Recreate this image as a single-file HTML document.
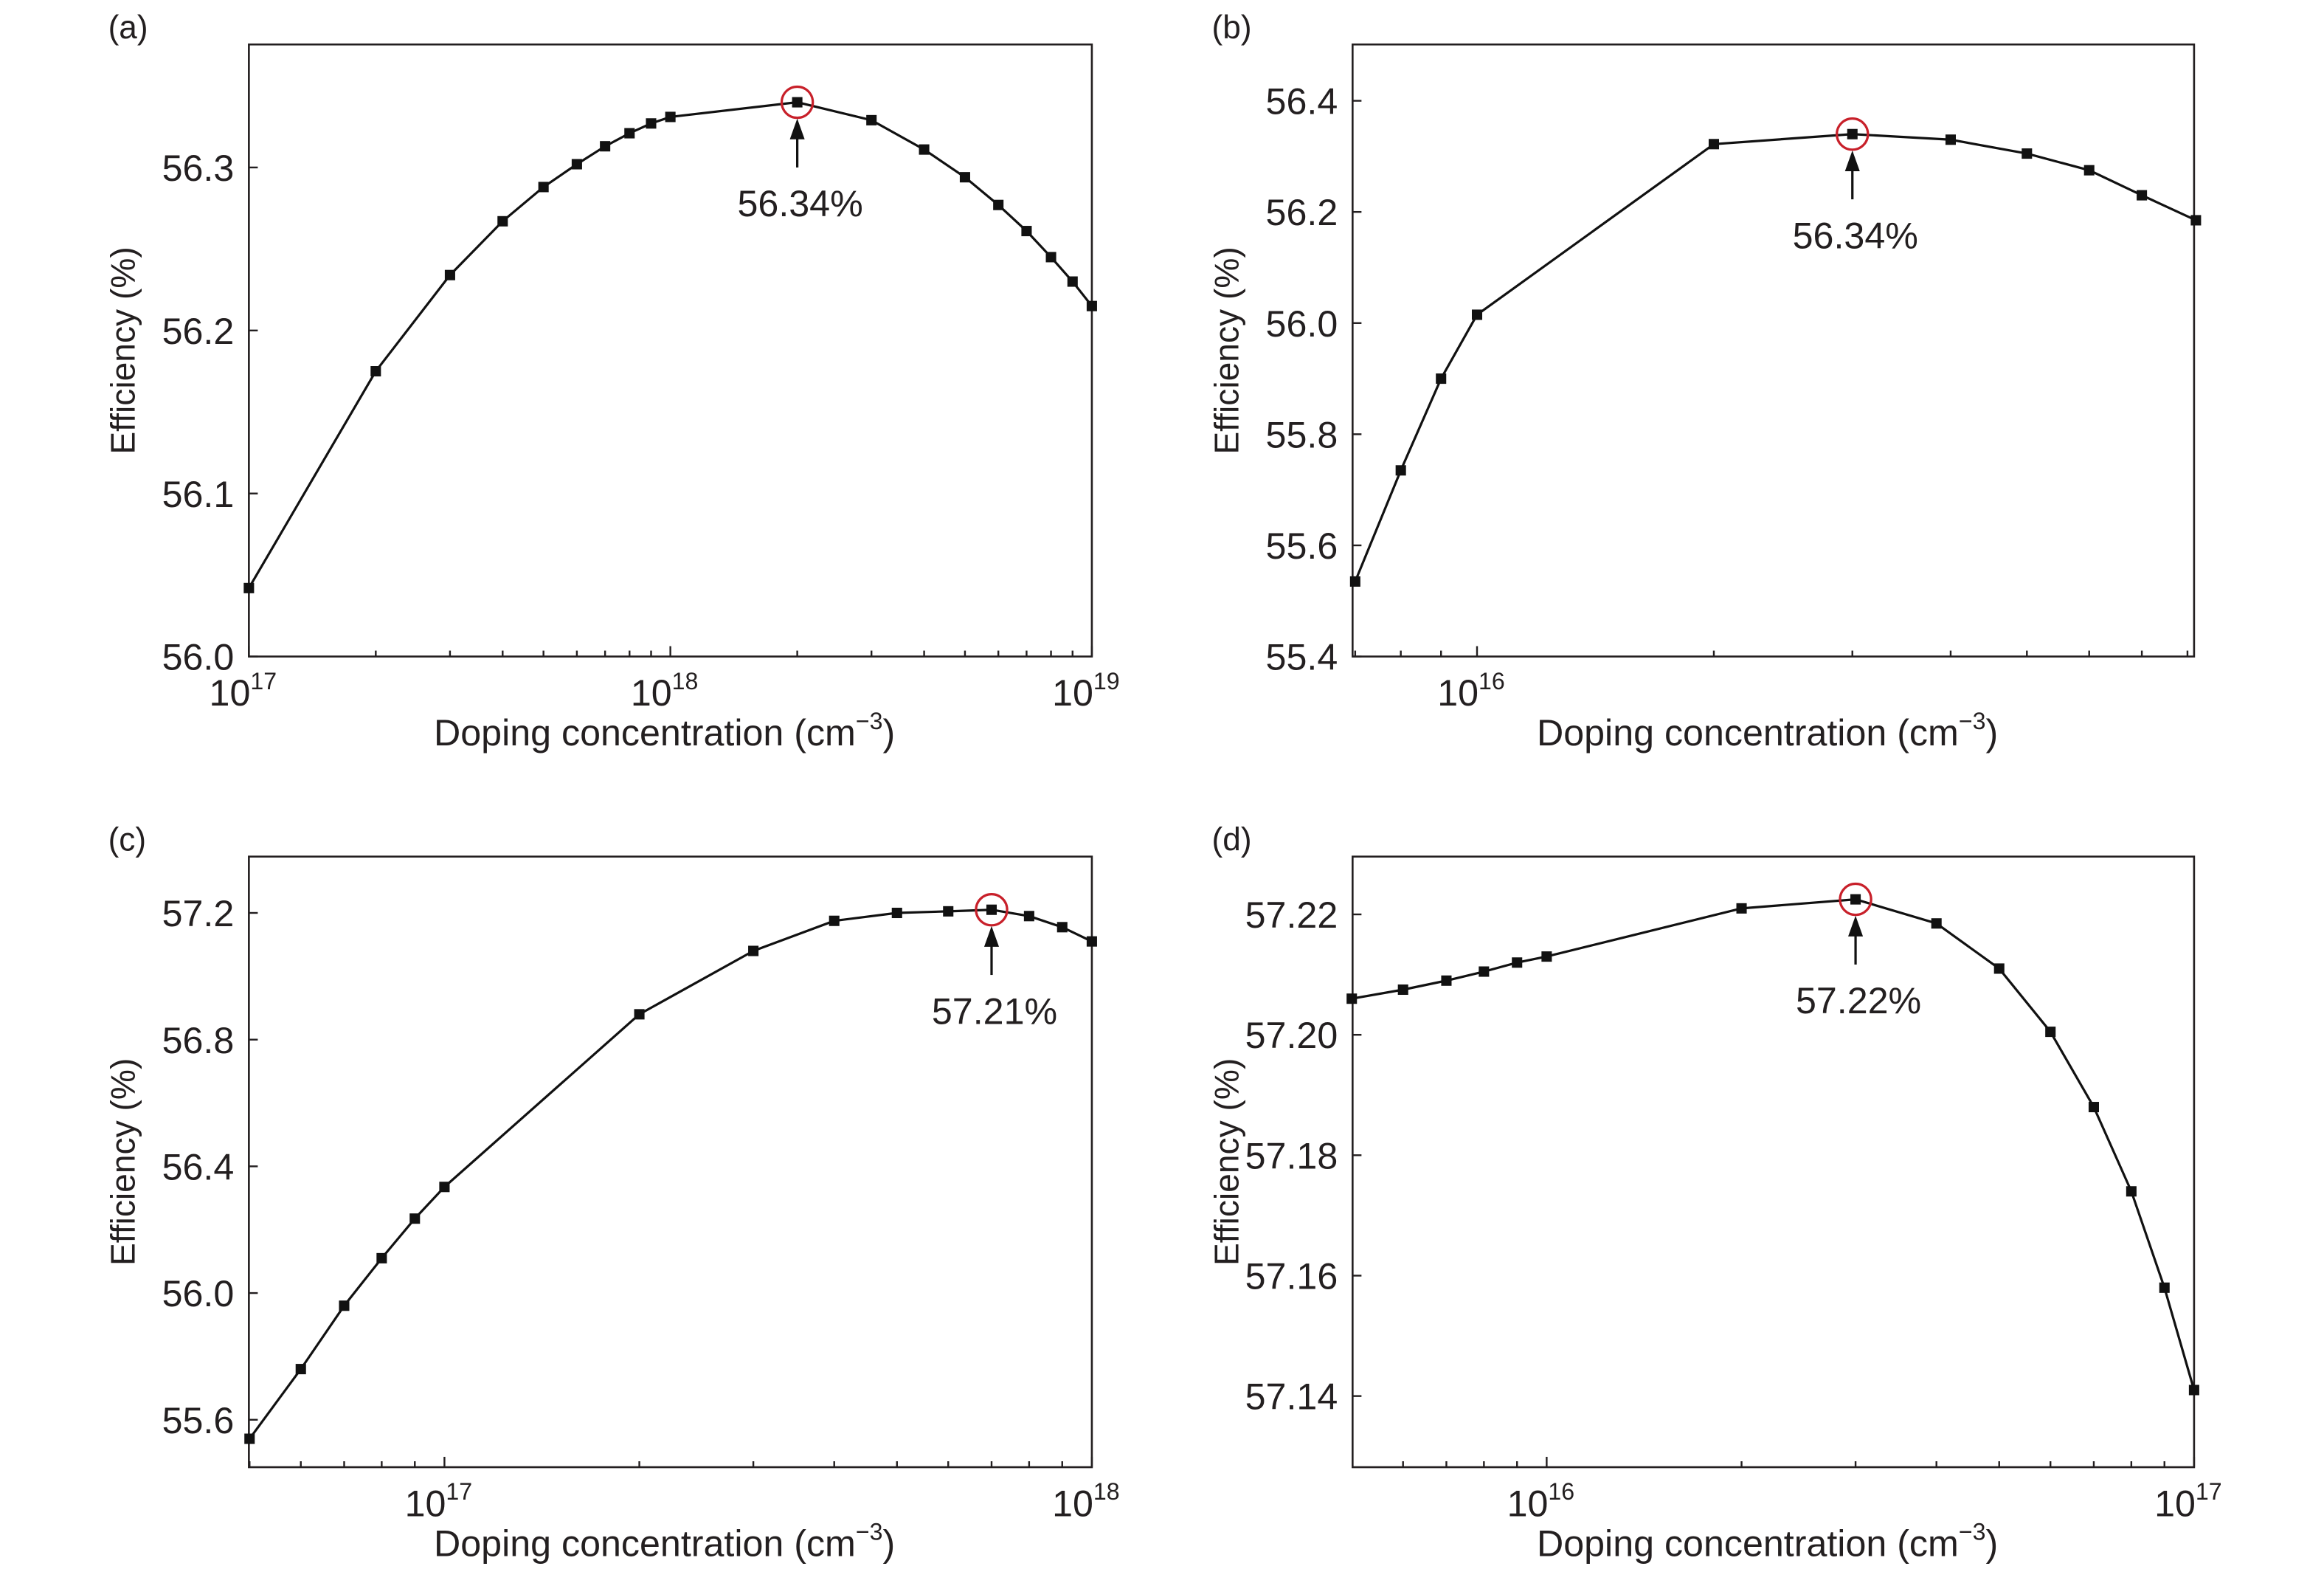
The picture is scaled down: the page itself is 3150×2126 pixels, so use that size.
<!DOCTYPE html>
<html><head><meta charset="utf-8"><style>
html,body{margin:0;padding:0;background:#fff;width:3150px;height:2126px;overflow:hidden}
svg{display:block}
text{font-family:"Liberation Sans Narrow","Liberation Sans",sans-serif;fill:#231f20}
.w{font-family:"Liberation Sans",sans-serif}
</style></head><body>
<svg id="s" width="3150" height="2126" viewBox="0 0 1568.7 1058.7" preserveAspectRatio="none" xmlns="http://www.w3.org/2000/svg"></svg>
<script>
const S=document.getElementById('s');let h='';
function L(v){return Math.log10(v);}
const panels=[
 {lab:'(a)',x0:168,x1:737,y0:30,y1:443,xd0:1e17,dec:284.5,yv0:56.0,yy0:443,ypu:1100,
  yt:[56.0,56.1,56.2,56.3],yf:1,xt:[[1e17,'17'],[1e18,'18'],[1e19,'19']],
  pts:[[1e17,56.042],[2e17,56.175],[3e17,56.234],[4e17,56.267],[5e17,56.288],[6e17,56.302],[7e17,56.313],[8e17,56.321],[9e17,56.327],[1e18,56.331],[2e18,56.340],[3e18,56.329],[4e18,56.311],[5e18,56.294],[6e18,56.277],[7e18,56.261],[8e18,56.245],[9e18,56.230],[1e19,56.215]],
  pk:[2e18,56.340],ann:'56.34%'},
 {lab:'(b)',x0:913,x1:1481,y0:30,y1:443,xd0:1e16,xref:997,dec:531,yv0:55.4,yy0:443,ypu:375,
  yt:[55.4,55.6,55.8,56.0,56.2,56.4],yf:1,xt:[[1e16,'16']],
  pts:[[7e15,55.535],[8e15,55.735],[9e15,55.90],[1e16,56.015],[2e16,56.322],[3e16,56.34],[4e16,56.33],[5e16,56.305],[6e16,56.275],[7e16,56.23],[8.2e16,56.185]],
  pk:[3e16,56.34],ann:'56.34%'},
 {lab:'(c)',x0:168,x1:737,y0:578,y1:990,xd0:1e17,xref:300,dec:437,yv0:55.6,yy0:958,ypu:213.75,
  yt:[55.6,56.0,56.4,56.8,57.2],yf:1,xt:[[1e17,'17'],[1e18,'18']],
  pts:[[5e16,55.54],[6e16,55.76],[7e16,55.96],[8e16,56.11],[9e16,56.235],[1e17,56.335],[2e17,56.88],[3e17,57.08],[4e17,57.175],[5e17,57.20],[6e17,57.205],[7e17,57.21],[8e17,57.19],[9e17,57.155],[1e18,57.11]],
  pk:[7e17,57.21],ann:'57.21%'},
 {lab:'(d)',x0:913,x1:1481,y0:578,y1:990,xd0:1e16,xref:1044,dec:437,yv0:57.14,yy0:942,ypu:4062.5,
  yt:[57.14,57.16,57.18,57.20,57.22],yf:2,xt:[[1e16,'16'],[1e17,'17']],
  pts:[[5e15,57.206],[6e15,57.2075],[7e15,57.209],[8e15,57.2105],[9e15,57.212],[1e16,57.213],[2e16,57.221],[3e16,57.2225],[4e16,57.2185],[5e16,57.211],[6e16,57.2005],[7e16,57.188],[8e16,57.174],[9e16,57.158],[1e17,57.141]],
  pk:[3e16,57.2225],ann:'57.22%'}
];
for(const p of panels){
 const xr=p.xref!==undefined?p.xref:p.x0;
 const X=v=>xr+(L(v)-L(p.xd0))*p.dec, Y=v=>p.yy0-(v-p.yv0)*p.ypu;
 h+=`<text x="${p.x0-95}" y="${p.y0-4}" font-size="22">${p.lab}</text>`;
 h+=`<rect x="${p.x0}" y="${p.y0}" width="${p.x1-p.x0}" height="${p.y1-p.y0}" fill="none" stroke="#231f20" stroke-width="1.3"/>`;
 for(const v of p.yt){const y=Y(v);h+=`<line x1="${p.x0}" x2="${p.x0+6}" y1="${y}" y2="${y}" stroke="#231f20" stroke-width="1.2"/><text x="${p.x0-10}" y="${y+9}" font-size="25" text-anchor="end">${v.toFixed(p.yf)}</text>`;}
 const e0=Math.floor(L(p.pts[0][0]))-1;
 for(let e=e0;e<e0+5;e++)for(let m=1;m<10;m++){const x=X(m*Math.pow(10,e));if(x>=p.x0-0.5&&x<=p.x1+0.5){h+=`<line x1="${x}" x2="${x}" y1="${p.y1}" y2="${p.y1-(m==1?7:4)}" stroke="#231f20" stroke-width="1.2"/>`;}}
 for(const [v,s] of p.xt){const x=X(v);h+=`<text x="${x-4}" y="${p.y1+33}" font-size="25" text-anchor="middle">10<tspan font-size="16" dy="-11">${s}</tspan></text>`;}
 h+=`<text x="${(p.x0+p.x1)/2-4}" y="${p.y1+60}" font-size="25" text-anchor="middle">Doping concentration (cm<tspan font-size="16" dy="-11">−3</tspan><tspan dy="11">)</tspan></text>`;
 const cy=(p.y0+p.y1)/2;
 h+=`<text class="w" transform="translate(${p.x0-77},${cy}) rotate(-90)" font-size="23" text-anchor="middle">Efficiency (%)</text>`;
 h+=`<polyline fill="none" stroke="#111" stroke-width="1.6" points="${p.pts.map(q=>X(q[0])+','+Y(q[1])).join(' ')}"/>`;
 for(const q of p.pts){h+=`<rect x="${X(q[0])-3.5}" y="${Y(q[1])-3.5}" width="7" height="7" fill="#111"/>`;}
 const px=X(p.pk[0]),py=Y(p.pk[1]);
 h+=`<circle cx="${px}" cy="${py}" r="10.5" fill="none" stroke="#c8202a" stroke-width="1.6"/>`;
 h+=`<line x1="${px}" x2="${px}" y1="${py+22}" y2="${py+44}" stroke="#111" stroke-width="1.6"/><polygon points="${px-5},${py+25} ${px+5},${py+25} ${px},${py+11}" fill="#111"/>`;
 h+=`<text x="${px+2}" y="${py+77}" font-size="25" text-anchor="middle">${p.ann}</text>`;
}
S.innerHTML=h;
</script>
</body></html>
